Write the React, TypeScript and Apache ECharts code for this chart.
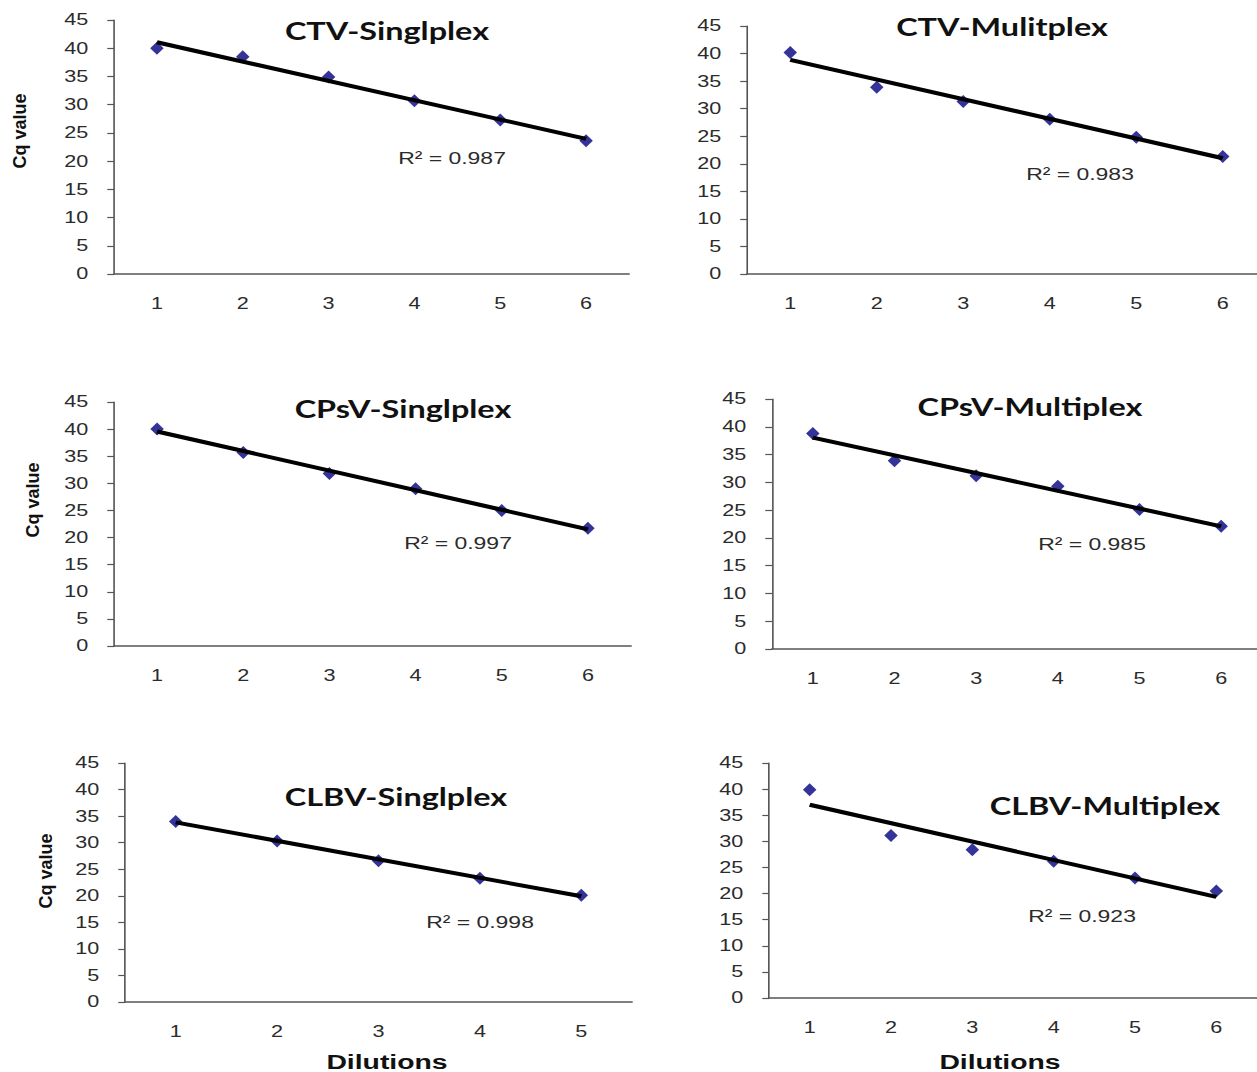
import React, { useEffect, useRef } from "react";
import * as echarts from "echarts";

// The reference picture is stretched horizontally; we draw in a narrower
// coordinate system and stretch the whole chart the same way.
const STRETCH = 1.35;
const VIEW_W = 1257;
const VIEW_H = 1072;
const CANVAS_W = Math.ceil(1300 / STRETCH);

// ---------------- data ----------------
const panelTitles = [
  "CTV-Singlplex",
  "CTV-Mulitplex",
  "CPsV-Singlplex",
  "CPsV-Multiplex",
  "CLBV-Singlplex",
  "CLBV-Multiplex",
];
const dilutionsSix = ["1", "2", "3", "4", "5", "6"];
const dilutionsFive = ["1", "2", "3", "4", "5"];

const ctvSinglplex = [40.0, 38.5, 34.9, 30.7, 27.3, 23.6];
const ctvMulitplex = [40.2, 33.9, 31.3, 28.1, 24.8, 21.3];
const cpsvSinglplex = [40.0, 35.7, 31.8, 29.0, 25.0, 21.7];
const cpsvMultiplex = [38.8, 33.9, 31.2, 29.3, 25.1, 22.1];
const clbvSinglplex = [34.0, 30.3, 26.6, 23.3, 20.1];
const clbvMultiplex = [39.9, 31.1, 28.4, 26.2, 23.0, 20.5];

const r2Labels = [
  "R² = 0.987",
  "R² = 0.983",
  "R² = 0.997",
  "R² = 0.985",
  "R² = 0.998",
  "R² = 0.923",
];

const yMin = 0;
const yMax = 45;
const yStep = 5;
const yAxisTitle = "Cq value";
const xAxisTitle = "Dilutions";

const panelValues = [ctvSinglplex, ctvMulitplex, cpsvSinglplex, cpsvMultiplex, clbvSinglplex, clbvMultiplex];
const panelCategories = [dilutionsSix, dilutionsSix, dilutionsSix, dilutionsSix, dilutionsFive, dilutionsSix];

// ---------------- layout (page pixels) ----------------
type Pt = [number, number] | null;
const layout: { left: number; top: number; width: number; height: number; title: Pt; r2: Pt; yName: Pt; xName: Pt }[] = [
  { left: 114, top: 20, width: 515, height: 254, title: [387, 31], r2: [452, 158], yName: [20, 131], xName: null },
  { left: 747, top: 26, width: 519, height: 248, title: [1002, 27], r2: [1080, 174], yName: null, xName: null },
  { left: 114, top: 402, width: 517, height: 244, title: [403, 409], r2: [458, 543], yName: [33, 500], xName: null },
  { left: 772, top: 399, width: 490, height: 250, title: [1030, 407], r2: [1092, 544], yName: null, xName: null },
  { left: 125, top: 763, width: 507, height: 239, title: [396, 797], r2: [480, 922], yName: [46, 871], xName: [387, 1061] },
  { left: 769, top: 763, width: 488, height: 235, title: [1105, 806], r2: [1082, 916], yName: null, xName: [1000, 1061] },
];

const ARIAL = "'Liberation Sans', Arial, Helvetica, sans-serif";
const TITLE_FONT = "Lato, 'Open Sans', sans-serif";
const AXIS_COLOR = "#555";
const TEXT_COLOR = "#2b2b2b";

// least-squares trend line, end points only (Excel linear trendline)
function trendLine(vals: number[]): (number | null)[] {
  const n = vals.length;
  const xs = vals.map((_, i) => i + 1);
  const mx = xs.reduce((a, b) => a + b, 0) / n;
  const my = vals.reduce((a, b) => a + b, 0) / n;
  let sxy = 0;
  let sxx = 0;
  for (let i = 0; i < n; i++) {
    sxy += (xs[i] - mx) * (vals[i] - my);
    sxx += (xs[i] - mx) * (xs[i] - mx);
  }
  const slope = sxy / sxx;
  const icpt = my - slope * mx;
  return vals.map((_, i) => (i === 0 || i === n - 1 ? +(icpt + slope * xs[i]).toFixed(3) : null));
}

function buildOption() {
  const ix = (x: number) => x / STRETCH;

  const grid = layout.map((p) => ({
    left: ix(p.left),
    top: p.top,
    width: ix(p.width),
    height: p.height,
    containLabel: false,
  }));

  const xAxis = layout.map((_, i) => ({
    gridIndex: i,
    type: "category",
    data: panelCategories[i],
    boundaryGap: true,
    axisLine: { show: true, lineStyle: { color: AXIS_COLOR, width: 1.5 } },
    axisTick: { show: false },
    axisLabel: { margin: 22, fontSize: 16, fontFamily: ARIAL, color: TEXT_COLOR },
    splitLine: { show: false },
  }));

  const yAxis = layout.map((_, i) => ({
    gridIndex: i,
    type: "value",
    min: yMin,
    max: yMax,
    interval: yStep,
    axisLine: { show: true, lineStyle: { color: AXIS_COLOR, width: 1.2 } },
    axisTick: { show: true, inside: false, length: 5, lineStyle: { color: AXIS_COLOR, width: 1.2 } },
    axisLabel: { margin: 19, fontSize: 16, fontFamily: ARIAL, color: TEXT_COLOR },
    splitLine: { show: false },
  }));

  const series: any[] = [];
  panelValues.forEach((vals, i) => {
    series.push({
      type: "scatter",
      name: panelTitles[i],
      xAxisIndex: i,
      yAxisIndex: i,
      data: vals,
      symbol: "diamond",
      symbolSize: [10, 13],
      itemStyle: { color: "#000080" },
      z: 2,
    });
    series.push({
      type: "line",
      name: panelTitles[i] + " trend",
      xAxisIndex: i,
      yAxisIndex: i,
      data: trendLine(vals),
      connectNulls: true,
      showSymbol: false,
      symbol: "none",
      lineStyle: { color: "#000", width: 4 },
      z: 3,
    });
  });

  const graphic: any[] = [];
  layout.forEach((p, i) => {
    if (p.title) {
      graphic.push({
        type: "text",
        x: ix(p.title[0]),
        y: p.title[1],
        style: {
          text: panelTitles[i],
          fontSize: 24,
          fontWeight: "bold",
          fontFamily: TITLE_FONT,
          fill: "#111",
          align: "center",
          verticalAlign: "middle",
          textAlign: "center",
          textVerticalAlign: "middle",
        },
      });
    }
    if (p.r2) {
      graphic.push({
        type: "text",
        x: ix(p.r2[0]),
        y: p.r2[1],
        style: {
          text: r2Labels[i],
          fontSize: 17,
          fontFamily: ARIAL,
          fill: TEXT_COLOR,
          align: "center",
          verticalAlign: "middle",
          textAlign: "center",
          textVerticalAlign: "middle",
        },
      });
    }
    if (p.yName) {
      graphic.push({
        type: "text",
        x: ix(p.yName[0]),
        y: p.yName[1],
        rotation: Math.PI / 2,
        scaleY: 1 / STRETCH,
        style: {
          text: yAxisTitle,
          fontSize: 18,
          fontWeight: "bold",
          fontFamily: ARIAL,
          fill: "#111",
          align: "center",
          verticalAlign: "middle",
          textAlign: "center",
          textVerticalAlign: "middle",
        },
      });
    }
    if (p.xName) {
      graphic.push({
        type: "text",
        x: ix(p.xName[0]),
        y: p.xName[1],
        style: {
          text: xAxisTitle,
          fontSize: 21,
          fontWeight: "bold",
          fontFamily: ARIAL,
          fill: "#111",
          align: "center",
          verticalAlign: "middle",
          textAlign: "center",
          textVerticalAlign: "middle",
        },
      });
    }
  });

  return {
    animation: false,
    backgroundColor: "#fff",
    grid,
    xAxis,
    yAxis,
    series,
    graphic,
  };
}

export default function App() {
  const ref = useRef<HTMLDivElement>(null);
  useEffect(() => {
    if (!ref.current) return;
    const chart = echarts.init(ref.current, null, { renderer: "svg" });
    chart.setOption(buildOption() as any);
    return () => chart.dispose();
  }, []);
  return (
    <div
      style={{
        position: "fixed",
        left: 0,
        top: 0,
        width: VIEW_W,
        height: VIEW_H,
        overflow: "hidden",
        background: "#fff",
      }}
    >
      <div
        ref={ref}
        style={{
          width: CANVAS_W,
          height: VIEW_H,
          transform: `scaleX(${STRETCH})`,
          transformOrigin: "0 0",
        }}
      />
    </div>
  );
}
